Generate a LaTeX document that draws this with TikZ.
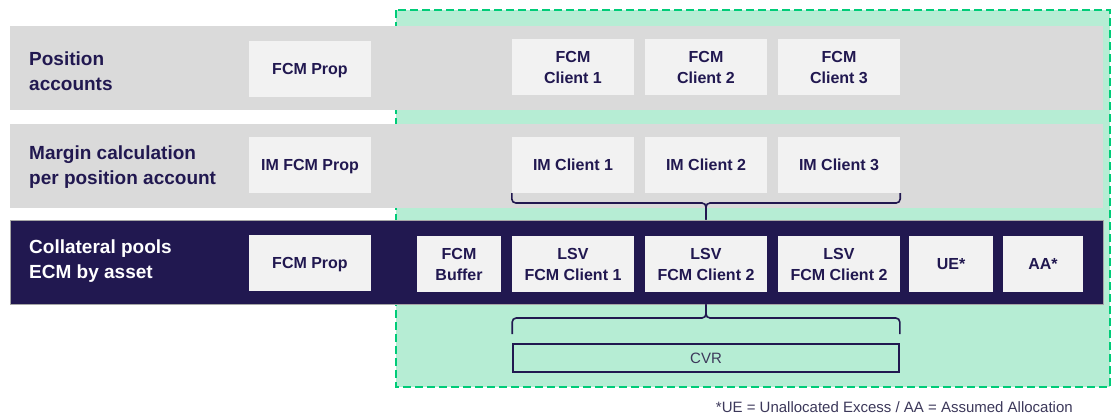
\documentclass[tikz,border=0pt]{standalone}
\usepackage{fontspec}
\setmainfont{Liberation Sans}
\definecolor{navy}{RGB}{33,24,80}
\definecolor{bandgray}{RGB}{218,218,218}
\definecolor{boxgray}{RGB}{242,242,242}
\definecolor{mint}{RGB}{182,237,212}
\definecolor{mintedge}{RGB}{0,204,120}
\definecolor{notegray}{RGB}{60,56,90}
\begin{document}
\begin{tikzpicture}[x=1pt,y=-1pt,
  band/.style={fill=bandgray, draw=none, minimum width=1093pt, minimum height=84pt, inner sep=0pt},
  darkband/.style={fill=navy, draw=gray!70, line width=0.6pt, minimum width=1093pt, minimum height=84pt, inner sep=0pt},
  rowlabel/.style={anchor=west, align=left, text=navy, inner sep=0pt,
    font=\fontsize{19}{25.5}\selectfont\bfseries},
  cell/.style={fill=boxgray, draw=none, minimum width=122pt, minimum height=56pt, inner sep=0pt,
    align=center, text=navy, font=\fontsize{16}{21}\selectfont\bfseries},
  oneline/.style={text height=11.5pt, text depth=0pt},
  bracket/.style={draw=navy, line width=1.6pt, rounded corners=4pt},
]
\useasboundingbox (0,0) rectangle (1112,416);

% shaded region covering the client side
\draw[fill=mint, draw=mintedge, line width=1.8pt, dash pattern=on 8pt off 4pt]
  (396,10) rectangle (1110,387);

% the three layers
\node[band] (band1) at (556.5,68) {};
\node[band] (band2) at (556.5,166) {};
\node[darkband] (band3) at (556.5,262) {};

\node[rowlabel] (lab1) at (29,71) {Position\\accounts};
\node[rowlabel] (lab2) at (29,167) {Margin calculation\\per position account};
\node[rowlabel, text=white] (lab3) at (29,261) {Collateral pools\\ECM by asset};

% position accounts
\node[cell, oneline] (pprop) at (310,69) {FCM Prop};
\node[cell] (pc1) at (573,67) {FCM\\Client 1};
\node[cell] (pc2) at (706,67) {FCM\\Client 2};
\node[cell] (pc3) at (839,67) {FCM\\Client 3};

% margin calculation
\node[cell, oneline] (mprop) at (310,165) {IM FCM Prop};
\node[cell, oneline] (mc1) at (573,165) {IM Client 1};
\node[cell, oneline] (mc2) at (706,165) {IM Client 2};
\node[cell, oneline] (mc3) at (839,165) {IM Client 3};

% collateral pools
\node[cell, oneline] (cprop) at (310,262.5) {FCM Prop};
\node[cell, minimum width=84pt] (cbuf) at (459,264) {FCM\\Buffer};
\node[cell] (cl1) at (573,264) {LSV\\FCM Client 1};
\node[cell] (cl2) at (706,264) {LSV\\FCM Client 2};
\node[cell] (cl3) at (839,264) {LSV\\FCM Client 2};
\node[cell, oneline, minimum width=84pt] (cue) at (951,264) {UE*};
\node[cell, oneline, minimum width=80pt] (caa) at (1043,264) {AA*};

% CVR bar
\node[draw=navy, line width=1.6pt, minimum width=386pt, minimum height=28pt, inner sep=0pt,
  text=notegray, font=\fontsize{15}{18}\selectfont] (cvr) at (706,358) {CVR};

% bracket joining the margin results to the collateral pools
\coordinate (upmid) at (mc2.south |- 0,203);
\draw[bracket] (mc1.south west) -- (mc1.south west |- upmid) -- (upmid) -- (upmid |- band3.north);
\draw[bracket] (mc3.south east) -- (mc3.south east |- upmid) -- (upmid) -- (upmid |- band3.north);

% bracket joining the collateral pools to the CVR
\coordinate (lowmid) at (cl2.south |- 0,318);
\draw[bracket] (lowmid |- band3.south) -- (lowmid) -- (lowmid -| cvr.west) -- ([yshift=9pt]cvr.north west);
\draw[bracket] (lowmid |- band3.south) -- (lowmid) -- (lowmid -| cvr.east) -- ([yshift=9pt]cvr.north east);

% footnote
\node[anchor=base east, inner sep=0pt, text=notegray, font=\fontsize{15}{18}\selectfont] (note) at (1073,412)
  {*UE = Unallocated Excess / AA = Assumed Allocation};
\end{tikzpicture}
\end{document}
